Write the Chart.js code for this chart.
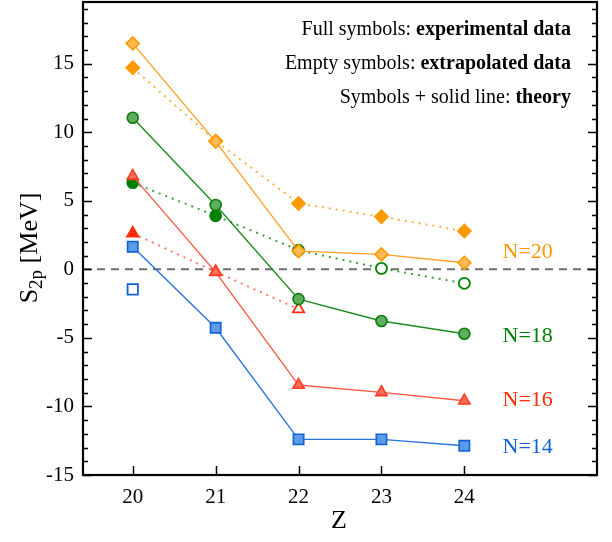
<!DOCTYPE html>
<html>
<head>
<meta charset="utf-8">
<script src="https://cdn.jsdelivr.net/npm/chart.js@4.4.1/dist/chart.umd.min.js"></script>
<style>
  html, body { margin: 0; padding: 0; background: #fff; }
  #wrap { width: 612px; height: 542px; }
</style>
</head>
<body>
<div id="wrap"><canvas id="s2pChart"></canvas></div>
<script>
// Z values on the x axis
const zValues = [20, 21, 22, 23, 24]

// theory (symbols + solid line), S2p in MeV
const theoryN20 = [16.48, 9.32, 1.33, 1.09, 0.48]
const theoryN18 = [11.06, 4.69, -2.17, -3.77, -4.70]
const theoryN16 = [6.80, -0.20, -8.44, -8.97, -9.58]
const theoryN14 = [1.65, -4.26, -12.40, -12.40, -12.87]

// experimental / extrapolated values (dotted line), null = no point
const dataN20 = [14.70, 9.36, 4.81, 3.84, 2.79]
const dataN18 = [6.32, 3.91, 1.40, 0.07, -1.02]
const dataN16 = [2.63, -0.18, -2.90, null, null]
const dataN14 = [-1.46, null, null, null, null]

// true where the value is extrapolated (empty symbol)
const extrapN20 = [false, false, false, false, false]
const extrapN18 = [false, false, false, true, true]
const extrapN16 = [false, false, true, false, false]
const extrapN14 = [true, false, false, false, false]

// isotone labels on the right
const isotoneLabels = ['N=20', 'N=18', 'N=16', 'N=14']
const isotoneLabelY = [1.28, -4.87, -9.53, -12.94]
const isotoneLabelZ = 24.46

const yTickLabels = [-15, -10, -5, 0, 5, 10, 15]

const serif = "'Liberation Serif', 'Times New Roman', serif"

const colors = {
  n20: { line: '#ffa126', dot: '#ffb24a', fill: '#ffb955', edge: '#ff9a00', full: '#ff9900' },
  n18: { line: '#1f8a1f', dot: '#3f9f3f', fill: '#5fae5f', edge: '#0a7d0a', full: '#008000' },
  n16: { line: '#ff5a45', dot: '#ff7a68', fill: '#ff6e5c', edge: '#ff3a1e', full: '#ff2d0a' },
  n14: { line: '#2a74e0', dot: '#5a96ea', fill: '#5b9be8', edge: '#1262d6', full: '#1262d6' }
}

const pts = vals => zValues.map((z, i) => ({ x: z, y: vals[i] }))

const theorySet = (vals, c, style, r) => ({
  data: pts(vals),
  borderColor: c.line,
  borderWidth: 1.4,
  pointStyle: style,
  pointRadius: r,
  pointBackgroundColor: c.fill,
  pointBorderColor: c.edge,
  pointBorderWidth: 1.6,
  tension: 0
})

const dataSet = (vals, flags, c, style, r) => ({
  data: pts(vals),
  borderColor: c.dot,
  borderWidth: 2,
  borderDash: [2, 5],
  spanGaps: false,
  pointStyle: style,
  pointRadius: r,
  pointBackgroundColor: flags.map(f => (f ? '#ffffff' : c.full)),
  pointBorderColor: c.full,
  pointBorderWidth: 1.8,
  tension: 0
})

// inward ticks, frame, zero line and text
const decor = {
  id: 'decor',
  beforeDatasetsDraw(chart) {
    const { ctx, chartArea: a, scales: { y } } = chart
    const y0 = y.getPixelForValue(0)
    ctx.save()
    ctx.strokeStyle = '#6e6e6e'
    ctx.lineWidth = 2
    ctx.setLineDash([8, 6])
    ctx.beginPath()
    ctx.moveTo(a.left, y0)
    ctx.lineTo(a.right, y0)
    ctx.stroke()
    ctx.restore()
  },
  afterDraw(chart) {
    const { ctx, chartArea: a, scales: { x, y } } = chart
    ctx.save()
    ctx.strokeStyle = '#000'
    ctx.lineWidth = 1.5
    ctx.beginPath()
    for (let v = -15; v <= 19; v++) {
      const py = Math.round(y.getPixelForValue(v)) + 0.5
      const len = v % 5 === 0 ? 9 : 5
      ctx.moveTo(a.left, py); ctx.lineTo(a.left + len, py)
      ctx.moveTo(a.right, py); ctx.lineTo(a.right - len, py)
    }
    zValues.forEach(z => {
      const px = Math.round(x.getPixelForValue(z)) + 0.5
      ctx.moveTo(px, a.bottom); ctx.lineTo(px, a.bottom - 9)
    })
    ctx.stroke()
    ctx.lineWidth = 2.2
    ctx.strokeRect(a.left, a.top, a.right - a.left, a.bottom - a.top)

    // isotone labels
    const labelColors = [colors.n20.full, colors.n18.full, colors.n16.full, colors.n14.full]
    ctx.font = '22px ' + serif
    ctx.textAlign = 'left'
    ctx.textBaseline = 'middle'
    isotoneLabels.forEach((t, i) => {
      ctx.fillStyle = labelColors[i]
      ctx.fillText(t, x.getPixelForValue(isotoneLabelZ), y.getPixelForValue(isotoneLabelY[i]))
    })

    // key text, right aligned
    const keyLines = [
      ['Full symbols: ', 'experimental data', 35],
      ['Empty symbols: ', 'extrapolated data', 69],
      ['Symbols + solid line: ', 'theory', 103]
    ]
    ctx.fillStyle = '#000'
    ctx.textBaseline = 'alphabetic'
    ctx.textAlign = 'left'
    keyLines.forEach(([plain, bold, by]) => {
      ctx.font = 'bold 20px ' + serif
      const wb = ctx.measureText(bold).width
      ctx.font = '20px ' + serif
      const wp = ctx.measureText(plain).width
      const right = 571
      ctx.fillText(plain, right - wb - wp, by)
      ctx.font = 'bold 20px ' + serif
      ctx.fillText(bold, right - wb, by)
    })

    // y axis title with subscript
    ctx.save()
    ctx.translate(30, 248)
    ctx.rotate(-Math.PI / 2)
    ctx.textBaseline = 'middle'
    ctx.font = '26px ' + serif
    const wS = ctx.measureText('S').width
    const wRest = ctx.measureText(' [MeV]').width
    ctx.font = '19px ' + serif
    const wSub = ctx.measureText('2p').width
    let cx = -(wS + wSub + wRest) / 2
    ctx.font = '26px ' + serif
    ctx.fillText('S', cx, 0)
    cx += wS
    ctx.font = '19px ' + serif
    ctx.fillText('2p', cx, 7)
    cx += wSub
    ctx.font = '26px ' + serif
    ctx.fillText(' [MeV]', cx, 0)
    ctx.restore()

    // x axis title
    ctx.font = '26px ' + serif
    ctx.textAlign = 'center'
    ctx.textBaseline = 'middle'
    ctx.fillText('Z', 339, 521)
    ctx.restore()
  }
}

new Chart(document.getElementById('s2pChart'), {
  type: 'line',
  data: {
    datasets: [
      theorySet(theoryN20, colors.n20, 'rectRot', 6.5),
      theorySet(theoryN18, colors.n18, 'circle', 5.5),
      theorySet(theoryN16, colors.n16, 'triangle', 6.5),
      theorySet(theoryN14, colors.n14, 'rect', 7.3),
      dataSet(dataN20, extrapN20, colors.n20, 'rectRot', 6.5),
      dataSet(dataN18, extrapN18, colors.n18, 'circle', 5.5),
      dataSet(dataN16, extrapN16, colors.n16, 'triangle', 6.5),
      dataSet(dataN14, extrapN14, colors.n14, 'rect', 7.3)
    ]
  },
  options: {
    responsive: true,
    maintainAspectRatio: false,
    animation: false,
    layout: { autoPadding: false, padding: { top: 2, right: 15, left: 0, bottom: 0 } },
    plugins: { legend: { display: false }, tooltip: { enabled: false } },
    scales: {
      x: {
        type: 'linear',
        min: 19.4,
        max: 25.6,
        afterBuildTicks: s => { s.ticks = zValues.map(v => ({ value: v })) },
        afterFit: s => { s.height = 67; s.paddingLeft = 0; s.paddingRight = 0 },
        grid: { display: false, drawTicks: false },
        border: { display: false },
        ticks: { color: '#000', font: { family: serif, size: 21 }, padding: 10, maxRotation: 0 }
      },
      y: {
        type: 'linear',
        min: -15,
        max: 19.5,
        afterBuildTicks: s => { s.ticks = yTickLabels.map(v => ({ value: v })) },
        afterFit: s => { s.width = 83; s.paddingTop = 0; s.paddingBottom = 0 },
        grid: { display: false, drawTicks: false },
        border: { display: false },
        ticks: { color: '#000', font: { family: serif, size: 21 }, padding: 9 }
      }
    }
  },
  plugins: [decor]
})
</script>
</body>
</html>
